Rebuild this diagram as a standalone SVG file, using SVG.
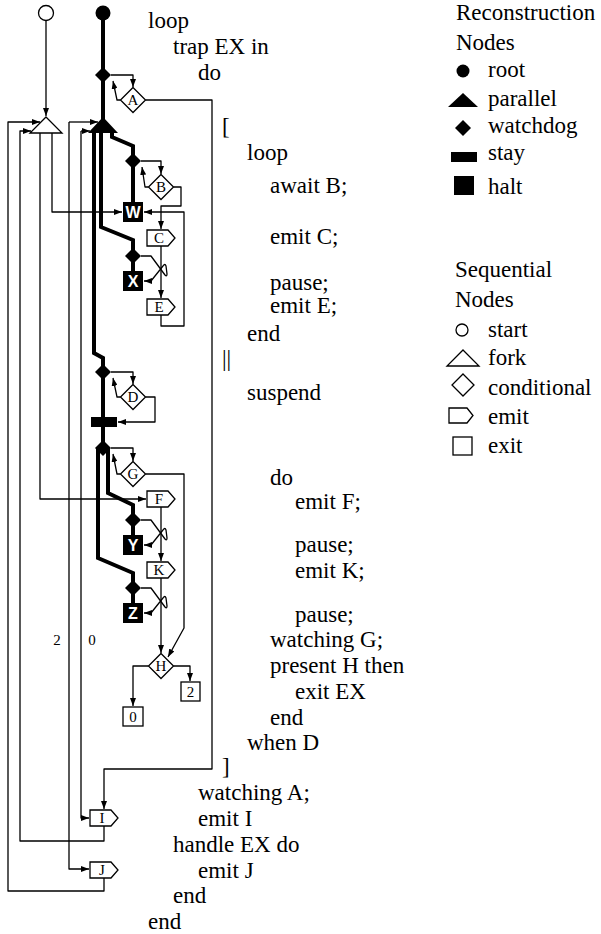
<svg xmlns="http://www.w3.org/2000/svg" width="601" height="934" viewBox="0 0 601 934">
<style>
.code{font-family:"Liberation Serif","Times New Roman",serif;font-size:23px;fill:#000}
.lbl{font-family:"Liberation Serif","Times New Roman",serif;font-size:15px;fill:#000;text-anchor:middle}
.hl{font-family:"Liberation Sans",Arial,sans-serif;font-size:16px;font-weight:bold;fill:#fff;text-anchor:middle}
.arr{fill:none;stroke:#000;stroke-width:1.3;stroke-linejoin:round;marker-end:url(#ah)}
.thick{fill:none;stroke:#000;stroke-width:4;stroke-linejoin:miter}
.seq{fill:#fff;stroke:#000;stroke-width:1.3}
.rec{fill:#000;stroke:none}
</style>
<defs>
<marker id="ah" viewBox="0 0 8 6" refX="8" refY="3" markerWidth="8" markerHeight="6" orient="auto" markerUnits="userSpaceOnUse"><path d="M0,0 L8,3 L0,6 z" fill="#000"/></marker>
</defs>
<rect width="601" height="934" fill="#fff"/>

<g id="connectors">
<path class="thick" d="M103,18 V120"/>
<path class="thick" d="M112,131 V137 L133,146 V161"/>
<path class="thick" d="M101,131 V227 L133,240 V256"/>
<path class="thick" d="M94,131 V353 L103,358 V448"/>
<path class="thick" d="M133,161 V203"/>
<path class="thick" d="M133,256 V272"/>
<path class="thick" d="M108,448 V493 L133,505 V520"/>
<path class="thick" d="M98,448 V558 L133,573 V588"/>
<path class="thick" d="M133,520 V536"/>
<path class="thick" d="M133,588 V604"/>

<path class="arr" d="M46,21 V116"/>
<path class="arr" d="M111,75 H133 V87"/>
<path class="arr" d="M120.5,100 H117 L113,81"/>
<path class="arr" d="M145.5,100 H212 V769 H104 V809"/>
<path class="arr" d="M141,161 H161 V174"/>
<path class="arr" d="M148.5,187 H145 L142,167"/>
<path class="arr" d="M173.5,187 H181 V206 H161 V229"/>
<path class="arr" d="M161,246 V298"/>
<path class="arr" d="M161,315 V326 H184 V212 H144"/>
<path class="arr" d="M52,133 V212 H122"/>
<path class="arr" d="M141,256 H151 L165,275 Q167,277 167,274 L166,266 Q165,263 163,266 L151,281 H144"/>
<path class="arr" d="M111,372 H133 V384"/>
<path class="arr" d="M120.5,397 H117 L113,378"/>
<path class="arr" d="M145.5,397 H155 V422 H118"/>
<path class="arr" d="M111,448 H133 V461"/>
<path class="arr" d="M120.5,474 H117 L113,454"/>
<path class="arr" d="M145.5,474 H184 V628 L168,657"/>
<path class="arr" d="M40,133 V499 H146"/>
<path class="arr" d="M141,520 H151 L165,539 Q167,541 167,538 L166,530 Q165,527 163,530 L151,545 H144"/>
<path class="arr" d="M161,507 V561"/>
<path class="arr" d="M141,588 H151 L165,607 Q167,609 167,606 L166,598 Q165,595 163,598 L151,613 H144"/>
<path class="arr" d="M161,578 V653"/>
<path class="arr" d="M148.5,666 H133 V706"/>
<path class="arr" d="M173.5,666 H190 V681"/>
<path class="arr" d="M104,826 V841 H20 V131 H31"/>
<path class="arr" d="M104,878 V891 H8 V122 H40"/>
<path class="arr" d="M81,131 V818 H89"/>
<path class="arr" d="M81,131 H90"/>
<path class="arr" d="M69,122 V869 H89"/>
<path class="arr" d="M69,122 H98"/>
<text class="lbl" x="57" y="645">2</text>
<text class="lbl" x="92" y="645">0</text>
</g>

<g id="start"><circle class="seq" cx="46" cy="13" r="7.5"/></g>
<g id="root"><circle class="rec" cx="103" cy="13" r="7.5"/></g>
<g id="wdA"><path class="rec" d="M103,67 L111,75 L103,83 L95,75 z"/></g>
<g id="condA"><path class="seq" d="M133,87.5 L145.5,100 L133,112.5 L120.5,100 z"/><text class="lbl" x="133" y="105">A</text></g>
<g id="fork"><path class="seq" d="M46,117 L62,133 L30,133 z"/></g>
<g id="parallel"><path class="rec" d="M103,117 L118,133 L88,133 z"/></g>
<g id="wdB"><path class="rec" d="M133,153 L141,161 L133,169 L125,161 z"/></g>
<g id="condB"><path class="seq" d="M161,174.5 L173.5,187 L161,199.5 L148.5,187 z"/><text class="lbl" x="161" y="192">B</text></g>
<g id="haltW"><rect class="rec" x="123" y="202" width="20" height="20"/><text class="hl" x="133" y="218">W</text></g>
<g id="emitC"><path class="seq" d="M147,230 H168 L175,238 L168,246 H147 z"/><text class="lbl" x="159" y="243">C</text></g>
<g id="wdX"><path class="rec" d="M133,248 L141,256 L133,264 L125,256 z"/></g>
<g id="haltX"><rect class="rec" x="123" y="271" width="20" height="20"/><text class="hl" x="133" y="287">X</text></g>
<g id="emitE"><path class="seq" d="M147,299 H168 L175,307 L168,315 H147 z"/><text class="lbl" x="159" y="312">E</text></g>
<g id="wdD"><path class="rec" d="M103,364 L111,372 L103,380 L95,372 z"/></g>
<g id="condD"><path class="seq" d="M133,384.5 L145.5,397 L133,409.5 L120.5,397 z"/><text class="lbl" x="133" y="402">D</text></g>
<g id="stay"><rect class="rec" x="91" y="417" width="26" height="10"/></g>
<g id="wdG"><path class="rec" d="M103,440 L111,448 L103,456 L95,448 z"/></g>
<g id="condG"><path class="seq" d="M133,461.5 L145.5,474 L133,486.5 L120.5,474 z"/><text class="lbl" x="133" y="479">G</text></g>
<g id="emitF"><path class="seq" d="M147,491 H168 L175,499 L168,507 H147 z"/><text class="lbl" x="159" y="504">F</text></g>
<g id="wdY"><path class="rec" d="M133,512 L141,520 L133,528 L125,520 z"/></g>
<g id="haltY"><rect class="rec" x="123" y="535" width="20" height="20"/><text class="hl" x="133" y="551">Y</text></g>
<g id="emitK"><path class="seq" d="M147,562 H168 L175,570 L168,578 H147 z"/><text class="lbl" x="159" y="575">K</text></g>
<g id="wdZ"><path class="rec" d="M133,580 L141,588 L133,596 L125,588 z"/></g>
<g id="haltZ"><rect class="rec" x="123" y="603" width="20" height="20"/><text class="hl" x="133" y="619">Z</text></g>
<g id="condH"><path class="seq" d="M161,653.5 L173.5,666 L161,678.5 L148.5,666 z"/><text class="lbl" x="161" y="671">H</text></g>
<g id="exit0"><rect class="seq" x="123" y="707" width="20" height="19"/><text class="lbl" x="133" y="722">0</text></g>
<g id="exit2"><rect class="seq" x="181" y="682" width="19" height="19"/><text class="lbl" x="190.5" y="697">2</text></g>
<g id="emitI"><path class="seq" d="M90,810 H111 L118,818 L111,826 H90 z"/><text class="lbl" x="102" y="823">I</text></g>
<g id="emitJ"><path class="seq" d="M90,862 H111 L118,870 L111,878 H90 z"/><text class="lbl" x="102" y="875">J</text></g>

<g id="code">
<text class="code" x="148" y="28">loop</text>
<text class="code" x="173" y="54">trap EX in</text>
<text class="code" x="198" y="80">do</text>
<text class="code" x="222" y="134">[</text>
<text class="code" x="247" y="160">loop</text>
<text class="code" x="270" y="193">await B;</text>
<text class="code" x="270" y="244">emit C;</text>
<text class="code" x="270" y="290">pause;</text>
<text class="code" x="270" y="313">emit E;</text>
<text class="code" x="247" y="341">end</text>
<text class="code" x="222" y="366">||</text>
<text class="code" x="247" y="400">suspend</text>
<text class="code" x="270" y="485">do</text>
<text class="code" x="295" y="509">emit F;</text>
<text class="code" x="295" y="552">pause;</text>
<text class="code" x="295" y="578">emit K;</text>
<text class="code" x="295" y="622">pause;</text>
<text class="code" x="270" y="647">watching G;</text>
<text class="code" x="270" y="673">present H then</text>
<text class="code" x="295" y="699">exit EX</text>
<text class="code" x="270" y="725">end</text>
<text class="code" x="247" y="750">when D</text>
<text class="code" x="222" y="774">]</text>
<text class="code" x="198" y="800">watching A;</text>
<text class="code" x="198" y="826">emit I</text>
<text class="code" x="173" y="852">handle EX do</text>
<text class="code" x="198" y="878">emit J</text>
<text class="code" x="173" y="903">end</text>
<text class="code" x="148" y="929">end</text>
</g>

<g id="legend">
<text class="code" x="456" y="20">Reconstruction</text>
<text class="code" x="456" y="50">Nodes</text>
<circle class="rec" cx="463" cy="71" r="6.5"/>
<text class="code" x="488" y="77">root</text>
<path class="rec" d="M463,93 L478,107 L448,107 z"/>
<text class="code" x="488" y="106">parallel</text>
<path class="rec" d="M463,120 L471,128 L463,136 L455,128 z"/>
<text class="code" x="488" y="133">watchdog</text>
<rect class="rec" x="451" y="152" width="26" height="10"/>
<text class="code" x="488" y="160">stay</text>
<rect class="rec" x="454" y="176" width="20" height="19"/>
<text class="code" x="488" y="194">halt</text>
<text class="code" x="455" y="277">Sequential</text>
<text class="code" x="455" y="307">Nodes</text>
<circle class="seq" cx="462" cy="330" r="6"/>
<text class="code" x="488" y="337">start</text>
<path class="seq" d="M463,350 L479,366 L447,366 z"/>
<text class="code" x="488" y="365">fork</text>
<path class="seq" d="M463,374 L474,385 L463,396 L452,385 z"/>
<text class="code" x="488" y="395">conditional</text>
<path class="seq" d="M449,408 H467 L473,415.5 L467,423 H449 z"/>
<text class="code" x="488" y="424">emit</text>
<rect class="seq" x="453" y="437" width="19" height="18"/>
<text class="code" x="488" y="453">exit</text>
</g>
</svg>
